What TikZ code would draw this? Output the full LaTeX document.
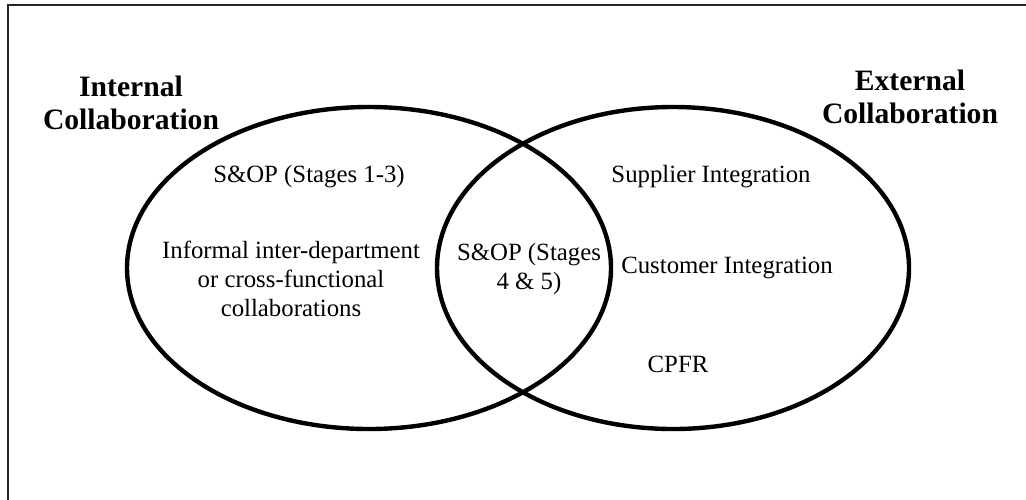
\documentclass[tikz,border=0pt]{standalone}
\usepackage{fontspec}
\setmainfont{Liberation Serif}

\tikzset{
	vennline/.style={line width=2.2pt},
	item/.style={inner sep=0pt, font=\fontsize{12.4}{14.5}\selectfont, align=center},
	heading/.style={inner sep=0pt, font=\fontsize{14.8}{16.5}\selectfont\bfseries, align=center}
}

\begin{document}
\begin{tikzpicture}[x=0.5pt, y=-0.5pt]
		\useasboundingbox (0,0) rectangle (1026,499);
		\clip (0,0) rectangle (1026,499);
		% frame, cut off at the right and the bottom
		\draw[line width=0.8pt, black!85] (8,5) rectangle (1040,520);

		% the two sets
		\draw[vennline] (369,268) ellipse [x radius=242, y radius=161];
		\draw[vennline] (673,268) ellipse [x radius=236, y radius=161];

		\node[heading, anchor=north] (intname) at (131,76) {Internal\\Collaboration};
		\node[heading, anchor=north] (extname) at (910,70) {External\\Collaboration};

		\node[item, anchor=base] (sop13) at (309,182) {S\&OP (Stages 1-3)};
		\node[item, anchor=north] (informal) at (291,241) {Informal inter-department\\or cross-functional\\collaborations};
		\node[item, anchor=north] (sop45) at (529,243) {S\&OP (Stages\\4 \& 5)};
		\node[item, anchor=base] (supplier) at (711,182) {Supplier Integration};
		\node[item, anchor=base] (customer) at (727,273) {Customer Integration};
		\node[item, anchor=base] (cpfr) at (678,372) {CPFR};
	\end{tikzpicture}
\end{document}
